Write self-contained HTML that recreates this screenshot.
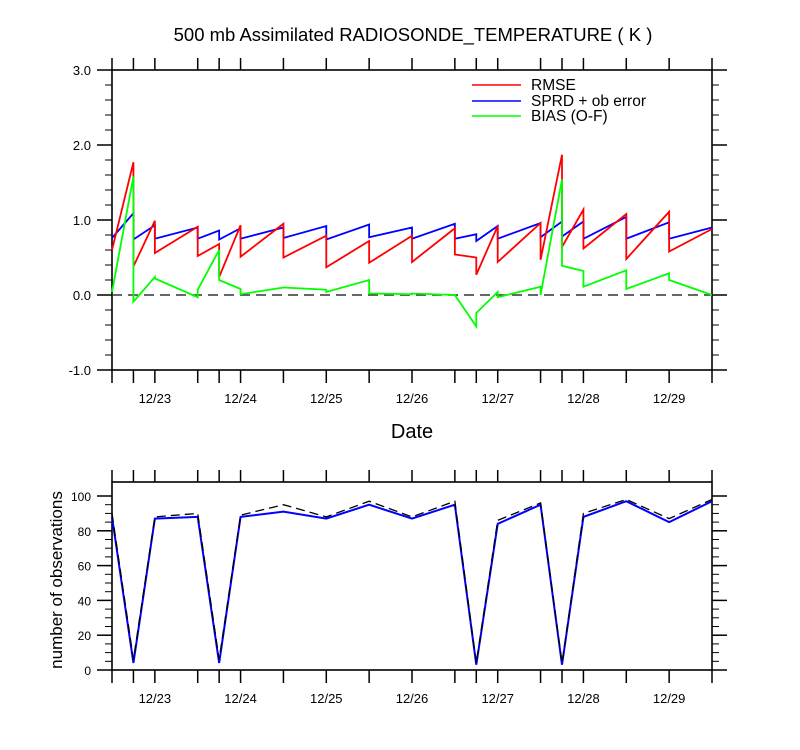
<!DOCTYPE html>
<html><head><meta charset="utf-8">
<style>
html,body{margin:0;padding:0;background:#fff;}
svg{display:block;font-family:"Liberation Sans",sans-serif;}
</style></head>
<body>
<svg id="c" width="800" height="750" viewBox="0 0 800 750" xmlns="http://www.w3.org/2000/svg">
<text x="413" y="41" text-anchor="middle" font-size="18.5">500 mb Assimilated RADIOSONDE_TEMPERATURE ( K )</text>
<text x="412" y="438" text-anchor="middle" font-size="20">Date</text>
<text transform="translate(62,580) rotate(-90)" text-anchor="middle" font-size="17">number of observations</text>
<g id="legend">
 <line x1="472" y1="85" x2="521" y2="85" stroke="#f00" stroke-width="1.5"/>
 <text x="531" y="90" font-size="15.5">RMSE</text>
 <line x1="472" y1="101" x2="521" y2="101" stroke="#00f" stroke-width="1.5"/>
 <text x="531" y="106" font-size="15.5">SPRD + ob error</text>
 <line x1="472" y1="116" x2="521" y2="116" stroke="#0f0" stroke-width="1.5"/>
 <text x="531" y="121" font-size="15.5">BIAS (O-F)</text>
</g>
</svg>
<script>
// hours since 12/22 12Z
const times=[0,6,12,24,30,36,48,60,72,84,96,102,108,120,126,132,144,156,168];
const dateLabels=["12/23","12/24","12/25","12/26","12/27","12/28","12/29"];
const dateHours=[12,36,60,84,108,132,156];
const rmseStart=[0.60,0.38,0.56,0.52,0.24,0.51,0.50,0.37,0.43,0.44,0.54,0.27,0.44,0.47,0.64,0.62,0.48,0.58];
const rmseEnd=[1.77,0.99,0.91,0.68,0.93,0.95,0.79,0.72,0.79,0.89,0.50,0.92,0.96,1.87,1.14,1.08,1.11,0.88];
const sprdStart=[0.76,0.74,0.75,0.75,0.74,0.75,0.76,0.74,0.77,0.75,0.75,0.72,0.75,0.77,0.78,0.75,0.75,0.75];
const sprdEnd=[1.09,0.93,0.90,0.86,0.89,0.90,0.92,0.94,0.90,0.95,0.81,0.92,0.96,0.98,0.98,1.04,0.97,0.90];
const biasStart=[0.04,-0.09,0.22,0.07,0.20,0.01,0.10,0.04,0.02,0.02,0.00,-0.24,-0.03,0.00,0.39,0.11,0.08,0.20];
const biasEnd=[1.58,0.24,-0.03,0.60,0.08,0.10,0.07,0.20,0.01,0.00,-0.42,0.04,0.11,1.54,0.32,0.33,0.29,0.00];
const nObsUsed=[88,4,87,88,4,88,91,87,95,87,95,3,84,95,3,88,97,85,97];
const nObsTotal=[90,6,88,90,6,89,95,88,97,88,97,4,86,96,4,90,98,87,98];
const topTicks=[-1,0,1,2,3];
const botTicks=[0,20,40,60,80,100];

const svg=document.getElementById('c');
const NS='http://www.w3.org/2000/svg';
const X0=112,X1=712,T0=0,T1=168;
const xs=t=>X0+(t-T0)/(T1-T0)*(X1-X0);
const TY0=370,TY1=70,TV0=-1,TV1=3;
const yTop=v=>TY0+(v-TV0)/(TV1-TV0)*(TY1-TY0);
const BY0=670,BV0=0,BPX=1.74,BYTOP=482;
const yBot=v=>BY0-(v-BV0)*BPX;
function mk(tag,attrs,parent){const e=document.createElementNS(NS,tag);for(const k in attrs)e.setAttribute(k,attrs[k]);(parent||svg).appendChild(e);return e;}
function ln(x1,y1,x2,y2,w,parent){return mk('line',{x1,y1,x2,y2,stroke:'#000','stroke-width':w||1},parent);}

function frame(top,bot,yfun,ticks,minorStep,fmt,name,fs){
  const g=mk('g',{});
  
  
  mk('rect',{x:X0,y:top,width:X1-X0,height:bot-top,fill:'none',stroke:'#000','stroke-width':1.6},g);
  times.forEach(t=>{ln(xs(t),top,xs(t),top-12,1.5,g);ln(xs(t),bot,xs(t),bot+13,1.5,g);});
  dateHours.forEach((h,i)=>{
    const tx=mk('text',{x:xs(h),y:bot+33,'text-anchor':'middle','font-size':13},g);
    tx.textContent=dateLabels[i];
    
    
  });
  const lo=ticks[0],hi=ticks[ticks.length-1];
  for(let v=lo;v<=hi+1e-9;v+=minorStep){
    const y=yfun(v);if(y<top-0.5)continue;
    ln(X0,y,X0-7,y,1,g);ln(X1,y,X1+7,y,1,g);
  }
  ticks.forEach(v=>{
    const y=yfun(v);
    ln(X0,y,X0-15,y,1.5,g);ln(X1,y,X1+15,y,1.5,g);
    const tx=mk('text',{x:X0-21,y:y+5,'text-anchor':'end','font-size':fs},g);
    tx.textContent=fmt(v);
    
    
  });
}
frame(TY1,TY0,yTop,topTicks,0.2,v=>v.toFixed(1),'top',13);
frame(BYTOP,BY0,yBot,botTicks,5,v=>String(v),'bottom',12);

const z=mk('line',{x1:X0,y1:yTop(0),x2:X1,y2:yTop(0),stroke:'#333','stroke-width':1.5,'stroke-dasharray':'10,6'});



function saw(st,en,color,name){
  let d='';
  for(let i=0;i<st.length;i++){
    d+=(i?'L':'M')+xs(times[i])+','+yTop(st[i])+'L'+xs(times[i+1])+','+yTop(en[i]);
  }
  const p=mk('path',{d,fill:'none',stroke:color,'stroke-width':1.8,'stroke-linejoin':'miter'});
  
  
}
saw(sprdStart,sprdEnd,'#00f','sprd-line');
saw(rmseStart,rmseEnd,'#f00','rmse-line');
saw(biasStart,biasEnd,'#0f0','bias-line');

function poly(vals,color,w,dash,name){
  const d=vals.map((v,i)=>(i?'L':'M')+xs(times[i])+','+yBot(v)).join('');
  const a={d,fill:'none',stroke:color,'stroke-width':w};
  if(dash)a['stroke-dasharray']=dash;
  const p=mk('path',a);
  
  
}
poly(nObsUsed,'#00f',2,null,'obs-used-line');
poly(nObsTotal,'#000',1.3,'9,5','obs-total-line');
svg.appendChild(document.getElementById('legend'));
</script>
</body></html>
